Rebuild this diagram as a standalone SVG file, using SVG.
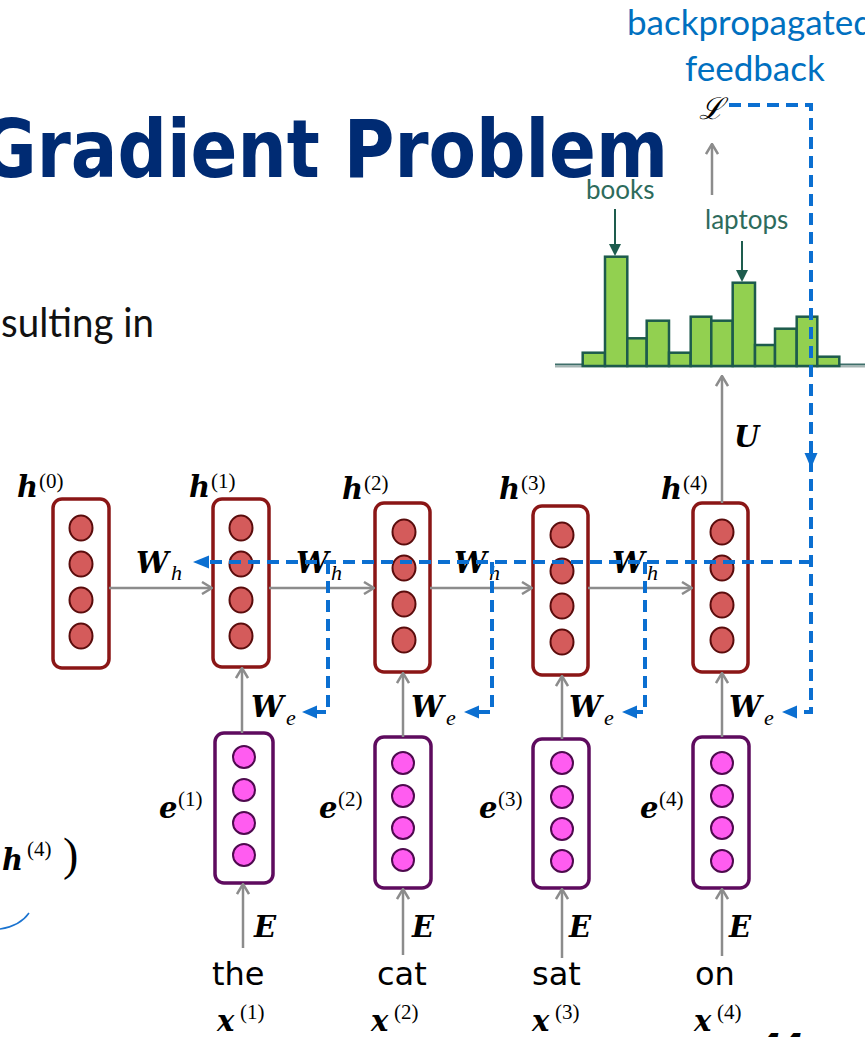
<svg xmlns="http://www.w3.org/2000/svg" width="865" height="1037" viewBox="0 0 865 1037">
<style>
.hbox{fill:#fff;stroke:#8a1616;stroke-width:3.5}
.ebox{fill:#fff;stroke:#5e0b5e;stroke-width:3.5}
.hc{fill:#d45b5b;stroke:#5a0c0c;stroke-width:2}
.ec{fill:#ff5cf0;stroke:#4e0a4e;stroke-width:2}
.gl{stroke:#8c8c8c;stroke-width:2.5;fill:none}
.bd{stroke:#0b6fd1;stroke-width:4;fill:none;stroke-dasharray:12 7}
.bh{fill:#0b6fd1}
.m{font-family:"DejaVu Serif",serif;font-weight:bold;font-style:italic;font-size:29px;fill:#000}
.s{font-family:"Liberation Serif",serif;font-size:21px;fill:#000}
.si{font-family:"Liberation Serif",serif;font-style:italic;font-size:22px;fill:#000}
.w{font-family:"DejaVu Sans",sans-serif;font-size:32px;fill:#000}
.bar{fill:#92d050;stroke:#1d5b4c;stroke-width:2.5}
.gt{font-family:Lato,"Open Sans",sans-serif;font-size:26px;fill:#2d6b5c}
.bt{font-family:Lato,"Open Sans",sans-serif;font-size:35px;fill:#0070c0}
</style>
<defs>
<marker id="ga" markerUnits="userSpaceOnUse" viewBox="0 0 14 14" markerWidth="14" markerHeight="14" refX="13" refY="7" orient="auto">
<path d="M3,1 L13,7 L3,13" stroke="#8c8c8c" stroke-width="2.5" fill="none"/>
</marker>
</defs>

<g id="title">
<text x="-20" y="177" font-family="DejaVu Sans, sans-serif" font-weight="bold" font-size="81" fill="#002b73" textLength="688" lengthAdjust="spacingAndGlyphs">Gradient Problem</text>
</g>
<g id="body-text">
<text x="1" y="337" font-family="Lato, 'Open Sans', sans-serif" font-size="40" fill="#111" textLength="153" lengthAdjust="spacingAndGlyphs">sulting in</text>
<text x="2" y="870" class="m">h</text><text x="27" y="856" class="s">(4)</text>
<text x="63" y="870" font-family="Liberation Serif, serif" font-size="46">)</text>
<path d="M0,929 Q20,926 29,913" stroke="#1a73d0" stroke-width="1.5" fill="none"/>
<text x="757" y="1061" font-family="Liberation Sans, sans-serif" font-weight="bold" font-style="italic" font-size="40">44</text>
</g>

<g id="feedback-label">
<text x="627" y="35" class="bt">backpropagated</text>
<text x="685" y="81" class="bt">feedback</text>
</g>
<g id="loss">
<text x="699" y="119" font-family="DejaVu Serif, serif" font-style="italic" font-size="30">ℒ</text>
</g>

<g id="histogram">
<line x1="555" y1="364.5" x2="865" y2="364.5" stroke="#3f6f6a" stroke-width="2"/>
<line x1="555" y1="366.5" x2="865" y2="366.5" stroke="#a5b5b3" stroke-width="2"/>
<rect class="bar" x="582.7" y="352.7" width="22.3" height="13.3"/>
<rect class="bar" x="605" y="256.7" width="22.3" height="109.3"/>
<rect class="bar" x="627.3" y="338.3" width="19.4" height="27.7"/>
<rect class="bar" x="646.7" y="320.7" width="22.3" height="45.3"/>
<rect class="bar" x="669" y="352.7" width="21.7" height="13.3"/>
<rect class="bar" x="690.7" y="316.7" width="20.6" height="49.3"/>
<rect class="bar" x="711.3" y="320.7" width="21.4" height="45.3"/>
<rect class="bar" x="732.7" y="282.7" width="22.3" height="83.3"/>
<rect class="bar" x="755" y="345" width="20" height="21"/>
<rect class="bar" x="775" y="328.7" width="21.7" height="37.3"/>
<rect class="bar" x="796.7" y="316.7" width="20.6" height="49.3"/>
<rect class="bar" x="817.3" y="356.7" width="22" height="9.3"/>
</g>
<g id="books">
<text x="586" y="199" class="gt">books</text>
<line x1="615" y1="209" x2="615" y2="246" stroke="#1e5c4e" stroke-width="2"/>
<polygon points="615,256 609,244 621,244" fill="#1e5c4e"/>
</g>
<g id="laptops">
<text x="705" y="229" class="gt">laptops</text>
<line x1="742" y1="241" x2="742" y2="272" stroke="#1e5c4e" stroke-width="2"/>
<polygon points="742,282 736,270 748,270" fill="#1e5c4e"/>
</g>

<g id="h0">
<rect class="hbox" x="53" y="499" width="56" height="169" rx="9"/>
<ellipse class="hc" cx="81" cy="528" rx="11.5" ry="12.5"/><ellipse class="hc" cx="81" cy="564" rx="11.5" ry="12.5"/><ellipse class="hc" cx="81" cy="600" rx="11.5" ry="12.5"/><ellipse class="hc" cx="81" cy="636" rx="11.5" ry="12.5"/>
<text x="17" y="497" class="m">h</text><text x="39" y="488" class="s">(0)</text>
</g>
<g id="h1">
<rect class="hbox" x="213" y="499" width="56" height="168" rx="9"/>
<ellipse class="hc" cx="241" cy="528" rx="11.5" ry="12.5"/><ellipse class="hc" cx="241" cy="564" rx="11.5" ry="12.5"/><ellipse class="hc" cx="241" cy="600" rx="11.5" ry="12.5"/><ellipse class="hc" cx="241" cy="636" rx="11.5" ry="12.5"/>
<text x="189" y="497" class="m">h</text><text x="211" y="488" class="s">(1)</text>
</g>
<g id="h2">
<rect class="hbox" x="375" y="503" width="55" height="169" rx="9"/>
<ellipse class="hc" cx="404" cy="532" rx="11.5" ry="12.5"/><ellipse class="hc" cx="404" cy="568" rx="11.5" ry="12.5"/><ellipse class="hc" cx="404" cy="604" rx="11.5" ry="12.5"/><ellipse class="hc" cx="404" cy="640" rx="11.5" ry="12.5"/>
<text x="342" y="499" class="m">h</text><text x="364" y="490" class="s">(2)</text>
</g>
<g id="h3">
<rect class="hbox" x="533" y="506" width="55" height="169" rx="9"/>
<ellipse class="hc" cx="562" cy="535" rx="11.5" ry="12.5"/><ellipse class="hc" cx="562" cy="571" rx="11.5" ry="12.5"/><ellipse class="hc" cx="562" cy="606" rx="11.5" ry="12.5"/><ellipse class="hc" cx="562" cy="642" rx="11.5" ry="12.5"/>
<text x="499" y="499" class="m">h</text><text x="521" y="490" class="s">(3)</text>
</g>
<g id="h4">
<rect class="hbox" x="693" y="503" width="55" height="169" rx="9"/>
<ellipse class="hc" cx="722" cy="532" rx="11.5" ry="12.5"/><ellipse class="hc" cx="722" cy="568" rx="11.5" ry="12.5"/><ellipse class="hc" cx="722" cy="605" rx="11.5" ry="12.5"/><ellipse class="hc" cx="722" cy="640" rx="11.5" ry="12.5"/>
<text x="661" y="499" class="m">h</text><text x="683" y="490" class="s">(4)</text>
</g>

<g id="e1">
<rect class="ebox" x="215" y="733" width="58" height="150" rx="9"/>
<circle class="ec" cx="244" cy="757" r="11"/><circle class="ec" cx="244" cy="790" r="11"/><circle class="ec" cx="244" cy="823" r="11"/><circle class="ec" cx="244" cy="855" r="11"/>
<text x="159" y="818" class="m">e</text><text x="178" y="806" class="s">(1)</text>
</g>
<g id="e2">
<rect class="ebox" x="375" y="737" width="56" height="151" rx="9"/>
<circle class="ec" cx="403" cy="763" r="11"/><circle class="ec" cx="403" cy="796" r="11"/><circle class="ec" cx="403" cy="828" r="11"/><circle class="ec" cx="403" cy="860" r="11"/>
<text x="319" y="818" class="m">e</text><text x="338" y="806" class="s">(2)</text>
</g>
<g id="e3">
<rect class="ebox" x="533" y="739" width="56" height="149" rx="9"/>
<circle class="ec" cx="562" cy="763" r="11"/><circle class="ec" cx="562" cy="797" r="11"/><circle class="ec" cx="562" cy="829" r="11"/><circle class="ec" cx="562" cy="861" r="11"/>
<text x="479" y="818" class="m">e</text><text x="498" y="806" class="s">(3)</text>
</g>
<g id="e4">
<rect class="ebox" x="693" y="737" width="56" height="151" rx="9"/>
<circle class="ec" cx="722" cy="763" r="11"/><circle class="ec" cx="722" cy="796" r="11"/><circle class="ec" cx="722" cy="828" r="11"/><circle class="ec" cx="722" cy="861" r="11"/>
<text x="640" y="818" class="m">e</text><text x="659" y="806" class="s">(4)</text>
</g>

<g id="x1"><text x="212" y="985" class="w">the</text><text x="217" y="1031" class="m">x</text><text x="240" y="1019" class="s">(1)</text></g>
<g id="x2"><text x="377" y="985" class="w">cat</text><text x="371" y="1031" class="m">x</text><text x="394" y="1019" class="s">(2)</text></g>
<g id="x3"><text x="532" y="985" class="w">sat</text><text x="532" y="1031" class="m">x</text><text x="555" y="1019" class="s">(3)</text></g>
<g id="x4"><text x="695" y="985" class="w">on</text><text x="694" y="1031" class="m">x</text><text x="717" y="1019" class="s">(4)</text></g>

<g id="connectors">
<g id="forward">
<line class="gl" x1="109" y1="588" x2="212" y2="588" marker-end="url(#ga)"/>
<line class="gl" x1="269" y1="588" x2="374" y2="588" marker-end="url(#ga)"/>
<line class="gl" x1="430" y1="588" x2="532" y2="588" marker-end="url(#ga)"/>
<line class="gl" x1="588" y1="588" x2="692" y2="588" marker-end="url(#ga)"/>
<line class="gl" x1="242" y1="733" x2="242" y2="668" marker-end="url(#ga)"/>
<line class="gl" x1="403" y1="737" x2="403" y2="673" marker-end="url(#ga)"/>
<line class="gl" x1="562" y1="739" x2="562" y2="676" marker-end="url(#ga)"/>
<line class="gl" x1="722" y1="737" x2="722" y2="673" marker-end="url(#ga)"/>
<line class="gl" x1="243" y1="948" x2="243" y2="884" marker-end="url(#ga)"/>
<line class="gl" x1="403" y1="955" x2="403" y2="889" marker-end="url(#ga)"/>
<line class="gl" x1="562" y1="958" x2="562" y2="889" marker-end="url(#ga)"/>
<line class="gl" x1="722" y1="956" x2="722" y2="889" marker-end="url(#ga)"/>
<line class="gl" x1="722" y1="503" x2="722" y2="376" marker-end="url(#ga)"/>
<line class="gl" x1="712" y1="195" x2="712" y2="144" marker-end="url(#ga)"/>
</g>
<g id="weight-labels">
<text x="734" y="447" class="m">U</text>
<text x="136" y="573" class="m">W</text><text x="171" y="580" class="si">h</text>
<text x="296" y="573" class="m">W</text><text x="331" y="580" class="si">h</text>
<text x="454" y="573" class="m">W</text><text x="489" y="580" class="si">h</text>
<text x="612" y="573" class="m">W</text><text x="647" y="580" class="si">h</text>
<text x="251" y="717" class="m">W</text><text x="286" y="725" class="si">e</text>
<text x="411" y="717" class="m">W</text><text x="446" y="725" class="si">e</text>
<text x="569" y="717" class="m">W</text><text x="604" y="725" class="si">e</text>
<text x="729" y="717" class="m">W</text><text x="764" y="725" class="si">e</text>
<text x="254" y="937" class="m">E</text>
<text x="412" y="937" class="m">E</text>
<text x="569" y="937" class="m">E</text>
<text x="729" y="937" class="m">E</text>
</g>
<g id="backprop">
<path class="bd" d="M729,105 H811 V712 H797"/>
<path class="bd" d="M811,562 H209"/>
<path class="bd" d="M328,562 V712 H317"/>
<path class="bd" d="M492,562 V712 H479"/>
<path class="bd" d="M645,562 V712 H637"/>
<polygon class="bh" points="811,468 804.5,453 817.5,453"/>
<polygon class="bh" points="193,562 209,555.5 209,568.5"/>
<polygon class="bh" points="302,712 317,705.5 317,718.5"/>
<polygon class="bh" points="464,712 479,705.5 479,718.5"/>
<polygon class="bh" points="622,712 637,705.5 637,718.5"/>
<polygon class="bh" points="782,712 797,705.5 797,718.5"/>
</g>
</g>
</svg>
